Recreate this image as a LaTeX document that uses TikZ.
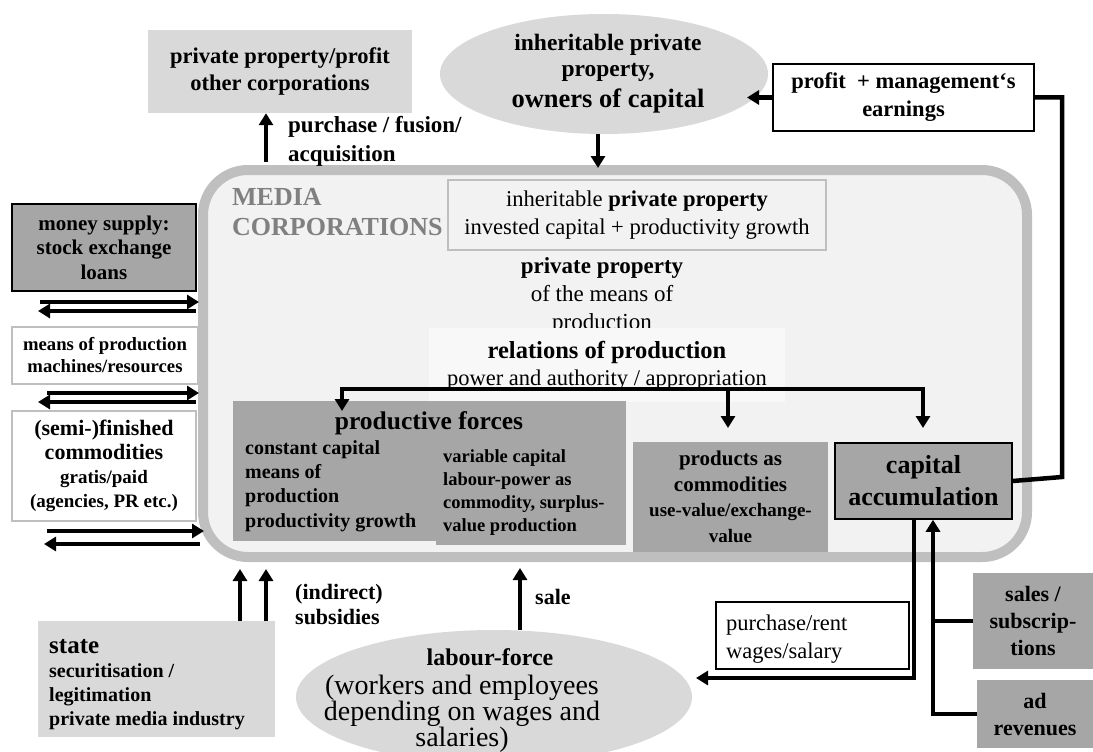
\documentclass[tikz,border=0pt]{standalone}
\usepackage{fontspec}
\setmainfont{Liberation Serif}
\usetikzlibrary{arrows.meta,shapes.geometric}
\definecolor{gl}{HTML}{D9D9D9}
\definecolor{gm}{HTML}{A6A6A6}
\definecolor{gb}{HTML}{BFBFBF}
\definecolor{gf}{HTML}{F2F2F2}
\definecolor{gw}{HTML}{F8F8F8}
\definecolor{gt}{HTML}{808080}
\newcommand\fsz[2]{\fontsize{#1}{#2}\selectfont}
\begin{document}
\begin{tikzpicture}[x=1pt,y=-1pt,
  conn/.style={line width=4.5pt,-{Triangle[width=14pt,length=12pt]}},
  plain/.style={line width=4.5pt},
  tb/.style={inner sep=0pt, align=center},
  bx/.style={rectangle, inner sep=0pt, align=center},
]
\useasboundingbox[fill=white] (0,0) rectangle (1093,752);

% main rounded frame
\node[draw=gb, fill=gf, line width=10pt, rounded corners=45pt, minimum width=824pt, minimum height=387pt, inner sep=0pt] (media) at (615,363.5) {};
\node[anchor=west, align=left, inner sep=0pt, text=gt, font=\fsz{26}{30}\bfseries] (mc) at (232,212) {MEDIA\\CORPORATIONS};

% top
\node[bx, fill=gl, minimum width=264pt, minimum height=83pt, font=\fsz{22.5}{27}\bfseries] (priv) at (280,71.5) {private property/profit\\other corporations};
\node[anchor=west, align=left, inner sep=0pt, font=\fsz{23}{29}\bfseries] (pfa) at (288,141.5) {purchase / fusion/\\acquisition};
\coordinate (pfaB) at (266,162);
\draw[conn] (pfaB) -- (pfaB |- priv.south);

\node[ellipse, fill=gl, minimum width=328pt, minimum height=120pt, inner sep=0pt] (own) at (604,74) {};
\node[tb, font=\fsz{23.5}{26}\bfseries] (ownT) at (608,74) {inheritable private\\property,\\[5pt]\fsz{26.5}{30}\bfseries owners of capital};
\coordinate (ownD) at (598,168);
\draw[conn] (own.south -| ownD) -- (ownD);

\node[bx, draw=black, line width=1.5pt, fill=white, minimum width=261pt, minimum height=67pt, font=\fsz{22.5}{28}\bfseries] (prof) at (903.5,97.5) {profit~~+ management‘s\\earnings};
\coordinate (profL) at (747,97.5);
\draw[conn] (prof.west) -- (profL);

% inside frame
\node[bx, draw=gb, line width=1.5pt, fill=gf, minimum width=378pt, minimum height=70pt, font=\fsz{22.6}{28}] (inh) at (637,215) {inheritable \textbf{private property}\\invested capital + productivity growth};
\node[tb, font=\fsz{23}{28}] (pp) at (602,296) {\textbf{private property}\\of the means of\\production};
\node[bx, fill=gw, minimum width=356pt, minimum height=74pt] (rel) at (607,365) {};
\node[tb, font=\fsz{22.5}{27}] (relT) at (607,366) {\fsz{24.5}{27}\bfseries relations of production\\\fsz{22.5}{27}power and authority / appropriation};

% productive forces
\node[bx, fill=gm, minimum width=393pt, minimum height=140pt] (pf) at (429.5,471) {};
\node[bx, fill=gm, minimum width=190pt, minimum height=103pt] (pfv) at (531,493.5) {};
\node[tb, font=\fsz{25.5}{30}\bfseries] (pfT) at (429,423) {productive forces};
\node[anchor=west, align=left, inner sep=0pt, font=\fsz{20}{24.3}\bfseries] (pfC) at (245,486) {constant capital\\means of\\production\\productivity growth};
\begin{scope}
\clip (436,442) rectangle (626,541);
\node[anchor=west, align=left, inner sep=0pt, font=\fsz{18.5}{23}\bfseries] (pfVT) at (443,493) {variable capital\\labour-power as\\commodity, surplus-\\value production};
\end{scope}

\node[bx, fill=gm, minimum width=195pt, minimum height=110pt, font=\fsz{21}{25.5}\bfseries] (prod) at (730.5,497) {products as\\commodities\\\fsz{19}{23}\bfseries use-value/exchange-\\\fsz{19}{23}\bfseries value};
\node[bx, draw=black, line width=1.5pt, fill=gm, minimum width=177pt, minimum height=76pt, font=\fsz{26}{32}\bfseries] (cap) at (923.5,481) {capital\\accumulation};

% relations arrows
\coordinate (h1) at (342,389);
\coordinate (h2) at (923,389);
\coordinate (h3) at (728,389);
\coordinate (pfTip) at (342,411);
\coordinate (capTip) at (923,428);
\coordinate (prodTip) at (728,428);
\draw[plain, {Triangle[width=14pt,length=12pt]}-{Triangle[width=14pt,length=12pt]}] (pfTip) -- (h1) -- (h2) -- (capTip);
\draw[conn] (h3) -- (prodTip);

% right loop
\coordinate (r1) at (1062,97.5);
\coordinate (r2) at (1062,477);
\draw[plain] (prof.east) -- (r1) -- (r2) -- (cap.east);

% left column
\node[bx, draw=black, line width=1.5pt, fill=gm, minimum width=184pt, minimum height=87pt, font=\fsz{21}{24.5}\bfseries] (money) at (104,247.5) {money supply:\\stock exchange\\loans};
\node[bx, draw=gb, line width=2pt, fill=white, minimum width=186pt, minimum height=57pt, font=\fsz{18.7}{22}\bfseries] (means) at (105,355.5) {means of production\\machines/resources};
\node[bx, draw=gb, line width=1.5pt, fill=white, minimum width=184pt, minimum height=110pt, font=\fsz{22}{24}\bfseries] (semi) at (104,466) {(semi-)finished\\commodities\\\fsz{19}{23.5}\bfseries gratis/paid\\\fsz{19}{23.5}\bfseries (agencies, PR etc.)};

\coordinate (m1a) at (40,302);  \coordinate (m1b) at (199,302);
\coordinate (m2a) at (196,311); \coordinate (m2b) at (38,311);
\coordinate (n1a) at (47,393);  \coordinate (n1b) at (199,393);
\coordinate (n2a) at (196,402); \coordinate (n2b) at (38,402);
\coordinate (s1a) at (47,531);  \coordinate (s1b) at (204,531);
\coordinate (s2a) at (200,544); \coordinate (s2b) at (44,544);
\draw[conn] (m1a) -- (m1b);
\draw[conn] (m2a) -- (m2b);
\draw[conn] (n1a) -- (n1b);
\draw[conn] (n2a) -- (n2b);
\draw[conn] (s1a) -- (s1b);
\draw[conn] (s2a) -- (s2b);

% state
\node[rectangle, fill=gl, minimum width=237pt, minimum height=116pt, inner sep=0pt] (state) at (156.5,679) {};
\node[anchor=north west, align=left, inner sep=0pt, font=\fsz{20}{24}\bfseries] (stateT) at (49,639) {\fsz{25}{28}\bfseries state\\securitisation /\\legitimation\\private media industry};
\coordinate (st1) at (240,569);
\coordinate (st2) at (266,569);
\draw[conn] (state.north -| st1) -- (st1);
\draw[conn] (state.north -| st2) -- (st2);
\node[anchor=west, align=left, inner sep=0pt, font=\fsz{22}{25}\bfseries] (subs) at (295,604.5) {(indirect)\\subsidies};

% labour force
\node[ellipse, fill=gl, minimum width=396pt, minimum height=134pt, inner sep=0pt] (lab) at (494,697) {};
\node[tb, font=\fsz{24}{26}\bfseries] (labH) at (490,657) {labour-force};
\node[tb, font=\fsz{28}{26}] (labT) at (462,714) {(workers and employees\\depending on wages and\\salaries)};
\coordinate (saleTip) at (520,568);
\draw[conn] (lab.north -| saleTip) -- (saleTip);
\node[anchor=west, inner sep=0pt, font=\fsz{22}{26}\bfseries] (sale) at (535,597) {sale};

% bottom right
\node[bx, draw=black, line width=1.5pt, fill=white, minimum width=193pt, minimum height=67pt] (purch) at (812.5,635.5) {};
\node[anchor=west, align=left, inner sep=0pt, font=\fsz{22.5}{28}] (purchT) at (726,639) {purchase/rent\\wages/salary};
\node[bx, fill=gm, minimum width=120pt, minimum height=96pt, font=\fsz{22}{27}\bfseries] (sales) at (1033,621) {sales /\\subscrip-\\tions};
\node[bx, fill=gm, minimum width=116pt, minimum height=68pt, font=\fsz{22}{27}\bfseries] (ad) at (1035,714) {ad\\revenues};

\coordinate (dn) at (914,678);
\coordinate (labTip) at (696,678);
\draw[conn] (cap.south -| dn) -- (dn) -- (labTip);
\coordinate (upx) at (933,0);
\draw[plain] (sales.west) -- (sales.west -| upx);
\draw[conn] (ad.west) -| (cap.south -| upx);
\end{tikzpicture}
\end{document}
